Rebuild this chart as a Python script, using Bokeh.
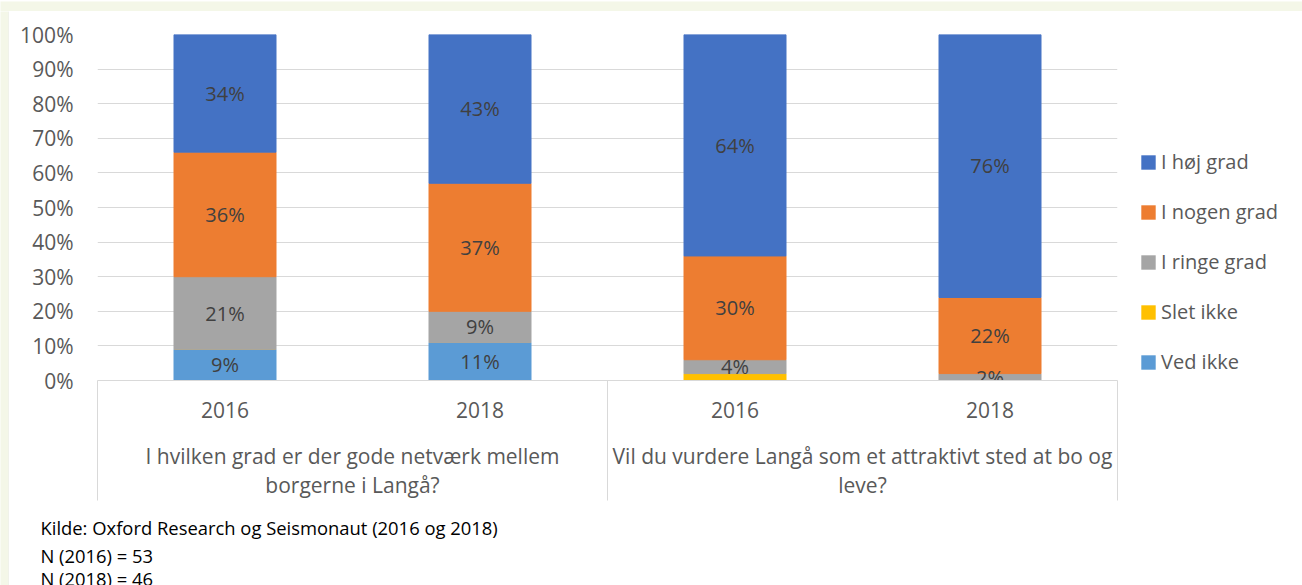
from bokeh.plotting import figure
from bokeh.models import (ColumnDataSource, Range1d, FixedTicker, NumeralTickFormatter,
                          LinearAxis, Legend, LegendItem)
from bokeh.layouts import row, column
from bokeh.core.properties import value
from bokeh.embed import file_html
from bokeh.resources import INLINE

# ---- data ----
questions = ["I hvilken grad er der gode netværk mellem\nborgerne i Langå?",
             "Vil du vurdere Langå som et attraktivt sted at bo og\nleve?"]
years = ["2016", "2018", "2016", "2018"]
series = ["Ved ikke", "Slet ikke", "I ringe grad", "I nogen grad", "I høj grad"]
colors = ["#5B9BD5", "#FFC000", "#A5A5A5", "#ED7D31", "#4472C4"]
ved_ikke = [9, 11, 0, 0]
slet_ikke = [0, 0, 2, 0]
i_ringe_grad = [21, 9, 4, 2]
i_nogen_grad = [36, 37, 30, 22]
i_hoj_grad = [34, 43, 64, 76]
labelled = [True, False, True, True, True]   # Slet ikke has no data labels
footer = ["Kilde: Oxford Research og Seismonaut (2016 og 2018)",
          "N (2016) = 53", "N (2018) = 46"]

FONT = "Open Sans"
TXT = "#595959"
GRID = "#D9D9D9"
CREAM = "#F4F7E8"
FS = "21px"


def blank(width, height, **kw):
    f = figure(width=width, height=height, x_range=Range1d(0, 1), y_range=Range1d(0, 1),
               output_backend="svg", toolbar_location=None,
               x_axis_location=None, y_axis_location=None,
               min_border_left=0, min_border_right=0, min_border_top=0,
               min_border_bottom=0, **kw)
    f.xgrid.grid_line_color = None
    f.ygrid.grid_line_color = None
    f.outline_line_color = None
    f.background_fill_color = "white"
    f.border_fill_color = "white"
    return f


values_by_series = [ved_ikke, slet_ikke, i_ringe_grad, i_nogen_grad, i_hoj_grad]
n = len(years)
xs = [i + 0.5 for i in range(n)]
keys = ["s%d" % i for i in range(len(series))]
data = {"x": xs}
for k, vals in zip(keys, values_by_series):
    data[k] = [v / 100 for v in vals]
src = ColumnDataSource(data)

# ---------------- main chart ----------------
p = figure(width=1121, height=494, x_range=Range1d(0, n), y_range=Range1d(0, 1),
           output_backend="svg", toolbar_location=None, x_axis_location=None,
           min_border_left=88, min_border_right=13, min_border_top=23,
           min_border_bottom=125)
p.background_fill_color = "white"
p.border_fill_color = "white"
p.outline_line_color = None
p.xgrid.grid_line_color = None

renderers = p.vbar_stack(keys, x="x", width=0.4, color=colors, source=src)

# data labels
lx, ly, lt = [], [], []
base = [0.0] * n
for vals, lab in zip(values_by_series, labelled):
    for i, v in enumerate(vals):
        if v > 0 and lab:
            lx.append(xs[i])
            ly.append((base[i] + v / 2) / 100)
            lt.append("%d%%" % v)
        base[i] += v
p.text(x=lx, y=ly, text=lt, text_align="center", text_baseline="middle",
       text_font=value(FONT), text_font_size="20px", text_color="#404040")

# y axis
yax = p.yaxis[0]
yax.ticker = FixedTicker(ticks=[i / 10 for i in range(11)])
yax.formatter = NumeralTickFormatter(format="0%")
yax.axis_line_color = None
yax.major_tick_line_color = None
yax.minor_tick_line_color = None
yax.major_tick_out = 0
yax.major_label_standoff = 24
yax.major_label_text_font = FONT
yax.major_label_text_font_size = FS
yax.major_label_text_color = TXT
p.ygrid.grid_line_color = GRID
p.ygrid.grid_line_width = 1

# year axis (group separators drawn as long minor ticks)
SEP = 120
year_axis = LinearAxis(ticker=FixedTicker(ticks=xs, minor_ticks=[0, 2, 4]),
                       major_label_overrides={x: y for x, y in zip(xs, years)})
year_axis.axis_line_color = GRID
year_axis.major_tick_line_color = None
year_axis.major_tick_out = 0
year_axis.major_tick_in = 0
year_axis.minor_tick_line_color = GRID
year_axis.minor_tick_out = SEP
year_axis.minor_tick_in = 0
year_axis.major_label_standoff = 21 - SEP
year_axis.major_label_text_font = FONT
year_axis.major_label_text_font_size = FS
year_axis.major_label_text_color = TXT
p.add_layout(year_axis, "below")

group_axis = LinearAxis(ticker=FixedTicker(ticks=[1, 3], minor_ticks=[]),
                        major_label_overrides={1: questions[0], 3: questions[1]})
group_axis.axis_line_color = None
group_axis.major_tick_line_color = None
group_axis.minor_tick_line_color = None
group_axis.major_tick_out = 0
group_axis.major_tick_in = 0
group_axis.major_label_standoff = 21
group_axis.major_label_text_font = FONT
group_axis.major_label_text_font_size = FS
group_axis.major_label_text_color = TXT
group_axis.major_label_text_line_height = 1.045
p.add_layout(group_axis, "below")

# ---------------- legend panel ----------------
# same stacked series, far outside this panel's visible ranges: only the legend shows
lg = blank(172, 494)
lg.x_range = Range1d(-101, -100)
lg.y_range = Range1d(100, 101)
leg_renderers = lg.vbar_stack(keys, x="x", width=0, fill_color=colors,
                              line_color=None, source=src)
items = [LegendItem(label=s, renderers=[r]) for s, r in zip(series, leg_renderers)][::-1]
legend = Legend(items=items, location=(9, 5),
                glyph_width=18, glyph_height=18,
                label_height=20, spacing=23, label_standoff=4, padding=0, margin=0,
                border_line_color=None, background_fill_alpha=0,
                label_text_font=FONT, label_text_font_size="20px",
                label_text_color=TXT)
lg.add_layout(legend)

# ---------------- footer ----------------
ft = blank(1293, 80)
ft.x_range = Range1d(0, 1293)
ft.y_range = Range1d(80, 0)
ft.text(x=[31] * len(footer), y=[22, 50, 73], text=footer,
        text_baseline="middle", text_font=value(FONT),
        text_font_size="18.4px", text_color="#000000")

# ---------------- page frame (cream strips) ----------------
top_strip = blank(1302, 11)
top_strip.min_border_bottom = 1
top_strip.background_fill_color = CREAM
top_strip.border_fill_color = GRID
left_strip = blank(9, 574)
left_strip.min_border_right = 1
left_strip.background_fill_color = CREAM
left_strip.border_fill_color = GRID

layout = column(top_strip, row(left_strip, column(row(p, lg), ft)))

open("out.html", "w").write(file_html(layout, INLINE))
